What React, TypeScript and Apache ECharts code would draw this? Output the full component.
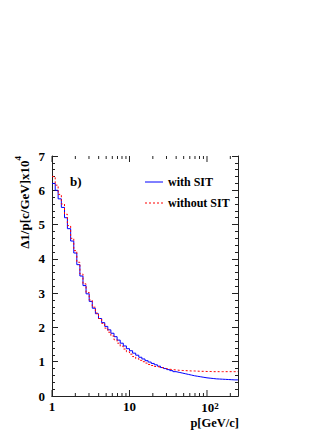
import React, { useEffect, useRef } from "react";
import * as echarts from "echarts";

// bin edges in p [GeV/c] (log-uniform histogram bins)
const pEdges = [
  1, 1.1, 1.2, 1.32, 1.45, 1.58, 1.74, 1.91, 2.09, 2.29,
  2.51, 2.75, 3.02, 3.31, 3.63, 3.98, 4.37, 4.79, 5.25, 5.75,
  6.31, 6.92, 7.59, 8.32, 9.12, 10, 10.96, 12.02, 13.18, 14.45,
  15.85, 17.38, 19.05, 20.89, 22.91, 25.12, 27.54, 30.2, 33.11, 36.31,
  39.81, 43.65, 47.86, 52.48, 57.54, 63.1, 69.18, 75.86, 83.18, 91.2,
  100, 109.6, 120.2, 131.8, 144.5, 158.5, 173.8, 190.5, 208.9, 229.1, 251.2,
];

// Δ(1/p) x10^4 per bin
const withSIT = [
  6.2, 6.0, 5.75, 5.5, 5.2, 4.88, 4.52, 4.17, 3.83, 3.5,
  3.22, 2.98, 2.76, 2.56, 2.4, 2.26, 2.14, 2.03, 1.93, 1.83,
  1.73, 1.63, 1.54, 1.46, 1.38, 1.32, 1.25, 1.19, 1.13, 1.08,
  1.03, 0.99, 0.95, 0.91, 0.87, 0.83, 0.8, 0.77, 0.74, 0.71,
  0.69, 0.67, 0.65, 0.63, 0.61, 0.59, 0.575, 0.56, 0.545, 0.53,
  0.52, 0.51, 0.5, 0.495, 0.49, 0.485, 0.48, 0.475, 0.47, 0.47,
];
const withoutSIT = [
  6.4, 6.15, 5.88, 5.6, 5.3, 4.97, 4.6, 4.24, 3.9, 3.56,
  3.27, 3.02, 2.8, 2.59, 2.42, 2.26, 2.12, 1.98, 1.86, 1.75,
  1.64, 1.54, 1.45, 1.37, 1.29, 1.22, 1.15, 1.09, 1.04, 1.0,
  0.96, 0.92, 0.89, 0.86, 0.84, 0.82, 0.8, 0.78, 0.77, 0.76,
  0.75, 0.745, 0.74, 0.735, 0.73, 0.73, 0.725, 0.72, 0.72, 0.715,
  0.715, 0.71, 0.71, 0.71, 0.71, 0.71, 0.71, 0.71, 0.71, 0.71,
];

const majorXTicks = [1, 10, 100];
const minorXTicks = [2, 3, 4, 5, 6, 7, 8, 9, 20, 30, 40, 50, 60, 70, 80, 90, 200];

const FONT = "Liberation Serif";

function toSteps(vals: number[]) {
  const out: number[][] = vals.map((v, i) => [pEdges[i], v]);
  out.push([pEdges[vals.length], vals[vals.length - 1]]);
  return out;
}

export default function App() {
  const ref = useRef<HTMLDivElement>(null);
  useEffect(() => {
    document.body.style.margin = "0";
    if (!ref.current) return;
    const chart = echarts.init(ref.current, undefined, { renderer: "svg" });
    const tickData = [
      ...majorXTicks.map((v) => [v, 1]),
      ...minorXTicks.map((v) => [v, 0]),
    ];
    const axisColor = "#222";
    chart.setOption({
      animation: false,
      backgroundColor: "#fff",
      grid: { left: 52, top: 156, width: 186, height: 240 },
      xAxis: [
        {
          type: "log",
          min: 1,
          max: 251.2,
          logBase: 10,
          position: "bottom",
          axisLine: { show: true, lineStyle: { color: axisColor, width: 1 } },
          axisTick: { show: false },
          splitLine: { show: false },
          axisLabel: {
            show: true,
            margin: 5,
            showMaxLabel: false,
            fontFamily: FONT,
            fontWeight: "bold",
            fontSize: 13,
            color: "#000",
            formatter: (v: number) => {
              const r = Math.round(v);
              if (r === 1) return "{b|1}";
              if (r === 10) return "{b|10}";
              if (r === 100) return "{p|}{b|10}{s|2}";
              return "";
            },
            rich: {
              b: { fontFamily: FONT, fontWeight: "bold", fontSize: 13, color: "#000", lineHeight: 12, verticalAlign: "bottom" },
              s: { fontFamily: FONT, fontWeight: "bold", fontSize: 9, color: "#000", verticalAlign: "top", lineHeight: 12, padding: [0, 0, 5, 0] },
              p: { width: 6 },
            },
          },
        },
        {
          type: "log",
          min: 1,
          max: 251.2,
          logBase: 10,
          position: "top",
          axisLine: { show: true, lineStyle: { color: axisColor, width: 1 } },
          axisTick: { show: false },
          axisLabel: { show: false },
          splitLine: { show: false },
        },
      ],
      yAxis: [
        {
          type: "value",
          min: 0,
          max: 7,
          interval: 1,
          position: "left",
          axisLine: { show: true, lineStyle: { color: axisColor, width: 1 } },
          axisTick: { show: true, inside: true, length: 6, lineStyle: { color: axisColor } },
          minorTick: { show: true, splitNumber: 5, length: 3, lineStyle: { color: axisColor } },
          splitLine: { show: false },
          axisLabel: {
            margin: 7,
            fontFamily: FONT,
            fontWeight: "bold",
            fontSize: 13,
            color: "#000",
          },
        },
        {
          type: "value",
          min: 0,
          max: 7,
          interval: 1,
          position: "right",
          axisLine: { show: true, lineStyle: { color: axisColor, width: 1 } },
          axisTick: { show: true, inside: true, length: 6, lineStyle: { color: axisColor } },
          minorTick: { show: true, splitNumber: 5, length: 3, lineStyle: { color: axisColor } },
          splitLine: { show: false },
          axisLabel: { show: false },
        },
      ],
      series: [
        {
          type: "custom",
          xAxisIndex: 0,
          yAxisIndex: 0,
          clip: false,
          silent: true,
          data: tickData,
          encode: { x: 0, y: 1 },
          renderItem: (params: any, api: any) => {
            const v = api.value(0);
            const major = api.value(1) === 1;
            const b = api.coord([v, 0]);
            const t = api.coord([v, 7]);
            const len = major ? 6 : 3;
            const st = { stroke: axisColor, lineWidth: 1 };
            return {
              type: "group",
              children: [
                { type: "line", shape: { x1: b[0], y1: b[1], x2: b[0], y2: b[1] - len }, style: st },
                { type: "line", shape: { x1: t[0], y1: t[1], x2: t[0], y2: t[1] + len }, style: st },
              ],
            };
          },
        },
        {
          name: "without SIT",
          type: "line",
          step: "end",
          showSymbol: false,
          symbol: "none",
          data: toSteps(withoutSIT),
          lineStyle: { color: "#ff0000", width: 1, type: [2, 2] },
          z: 3,
        },
        {
          name: "with SIT",
          type: "line",
          step: "end",
          showSymbol: false,
          symbol: "none",
          data: toSteps(withSIT),
          lineStyle: { color: "#0000ff", width: 1 },
          z: 2,
        },
      ],
      graphic: [
        {
          type: "text",
          x: 22,
          y: 156,
          rotation: Math.PI / 2,
          style: {
            text: "{a|Δ1/p[c/GeV]x10}{s|4}",
            align: "right",
            verticalAlign: "middle",
            rich: {
              a: { fontFamily: FONT, fontWeight: "bold", fontSize: 13, fill: "#000", lineHeight: 18, verticalAlign: "bottom" },
              s: { fontFamily: FONT, fontWeight: "bold", fontSize: 9, fill: "#000", lineHeight: 18, verticalAlign: "top" },
            },
          },
        },
        {
          type: "text",
          x: 239,
          y: 423,
          style: { text: "p[GeV/c]", fontFamily: FONT, fontWeight: "bold", fontSize: 12.5, fill: "#000", align: "right", verticalAlign: "middle" },
        },
        {
          type: "text",
          x: 70,
          y: 181,
          style: { text: "b)", fontFamily: FONT, fontWeight: "bold", fontSize: 13, fill: "#000", verticalAlign: "middle" },
        },
        {
          type: "line",
          shape: { x1: 145, y1: 182, x2: 163, y2: 182 },
          style: { stroke: "#0000ff", lineWidth: 1 },
        },
        {
          type: "text",
          x: 168,
          y: 182,
          style: { text: "with SIT", fontFamily: FONT, fontWeight: "bold", fontSize: 12, fill: "#000", verticalAlign: "middle" },
        },
        {
          type: "line",
          shape: { x1: 145, y1: 203, x2: 163, y2: 203 },
          style: { stroke: "#ff0000", lineWidth: 1, lineDash: [2, 2] },
        },
        {
          type: "text",
          x: 168,
          y: 203,
          style: { text: "without SIT", fontFamily: FONT, fontWeight: "bold", fontSize: 12, fill: "#000", verticalAlign: "middle" },
        },
      ],
    });
    return () => chart.dispose();
  }, []);
  return <div ref={ref} style={{ width: 332, height: 430 }} />;
}
